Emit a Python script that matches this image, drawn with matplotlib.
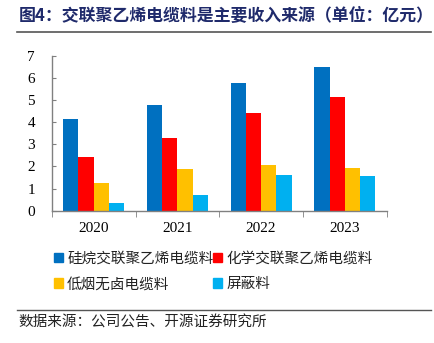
import matplotlib
matplotlib.use("Agg")
import matplotlib.pyplot as plt
import numpy as np
from matplotlib.patches import Patch
from matplotlib.lines import Line2D

plt.rcParams['font.family'] = ['Noto Sans CJK SC', 'DejaVu Sans']

years = ['2020', '2021', '2022', '2023']
series_names = ['硅烷交联聚乙烯电缆料', '化学交联聚乙烯电缆料', '低烟无卤电缆料', '屏蔽料']
silane = [4.13, 4.78, 5.78, 6.52]
chemical = [2.42, 3.28, 4.43, 5.16]
lszh = [1.25, 1.89, 2.07, 1.93]
shield = [0.33, 0.71, 1.60, 1.57]
colors = ['#0070C0', '#FF0000', '#FFC000', '#00B0F0']

fig = plt.figure(figsize=(4.35, 3.43), dpi=100)
ax = fig.add_axes([0.119, 0.386, 0.77, 0.451])

x = np.arange(len(years))
w = 0.182
for i, (vals, c) in enumerate(zip([silane, chemical, lszh, shield], colors)):
    ax.bar(x + (i - 1.5) * w, vals, w, color=c, edgecolor='none')

ax.set_xlim(-0.5, 3.5)
ax.set_ylim(0, 7)
ax.set_yticks(range(0, 8))
ax.set_xticks(x)
ax.set_xticklabels(years)
ax.set_xticks(np.arange(-0.5, 4.0, 1.0), minor=True)
for s in ['top', 'right']:
    ax.spines[s].set_visible(False)
for s in ['left', 'bottom']:
    ax.spines[s].set_color('#808080')
    ax.spines[s].set_linewidth(1.0)
ax.tick_params(axis='x', which='major', length=0, pad=8)
ax.tick_params(axis='x', which='minor', length=4, color='#808080', direction='out')
ax.tick_params(axis='y', length=3, color='#808080', direction='in', pad=12)
for lab in ax.get_xticklabels() + ax.get_yticklabels():
    lab.set_fontfamily('Liberation Serif')
    lab.set_fontsize(11)
    lab.set_color('black')

# legend, column-wise order for two columns
handles = [Patch(color=c) for c in colors]
order = [0, 2, 1, 3]
fig.legend([handles[i] for i in order], [series_names[i] for i in order],
           ncol=2, loc='upper left', bbox_to_anchor=(0.094, 0.305),
           frameon=False, fontsize=10.5, handlelength=0.6, handleheight=0.6,
           handletextpad=0.3, columnspacing=0.0, labelspacing=0.8,
           labelcolor='#222222')

# title
fig.text(0.042, 0.952, '图4：交联聚乙烯电缆料是主要收入来源（单位：亿元）',
         fontsize=12.2, fontweight='bold', color='#1F2A6B', va='center', ha='left')
fig.add_artist(Line2D([0.04, 0.99], [0.907, 0.907], color='#555555', lw=1.2))
fig.add_artist(Line2D([0.04, 0.99], [0.097, 0.097], color='#555555', lw=1.0))
fig.text(0.042, 0.058, '数据来源：公司公告、开源证券研究所', fontsize=10.5,
         color='#222222', va='center', ha='left')

fig.savefig('out.png', dpi=100)
